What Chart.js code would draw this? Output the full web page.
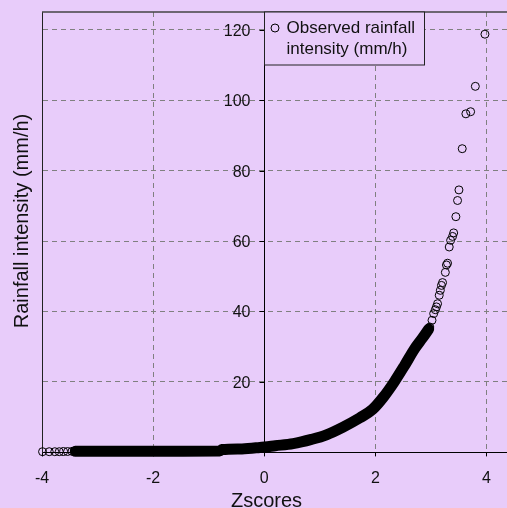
<!DOCTYPE html>
<html>
<head>
<meta charset="utf-8">
<script src="https://cdn.jsdelivr.net/npm/chart.js@4.4.1/dist/chart.umd.min.js"></script>
<style>
  html, body { margin: 0; padding: 0; background: #e8ccfa; }
  canvas { display: block; }
</style>
</head>
<body>
<canvas id="grafico" width="507" height="508"></canvas>
<script>
// ticks
const xTicks = [-4, -2, 0, 2, 4];
const yGrid = [0, 20, 40, 60, 80, 100, 120];
const yLabels = [20, 40, 60, 80, 100, 120];

// dense part of the curve (reads as a solid black band)
const bandZ = [-3.40, -2.50, -1.50, -0.80, -0.76, -0.40, -0.08, 0.20, 0.52, 0.85, 1.12, 1.42, 1.72, 1.95, 2.15, 2.34, 2.52, 2.71, 2.85, 2.96];
const bandY = [0.3, 0.3, 0.35, 0.4, 0.8, 1.0, 1.4, 1.9, 2.5, 3.7, 5.0, 7.2, 9.8, 12.2, 15.8, 20.0, 24.5, 29.5, 32.5, 35.0];

// circles that can be told apart
const ptZ = [-3.99, -3.87, -3.77, -3.69, -3.61, -3.54, -3.46, -3.38,
  2.98, 3.02, 3.05, 3.08, 3.10, 3.12, 3.15, 3.17, 3.19, 3.21, 3.26, 3.28, 3.30,
  3.33, 3.355, 3.39, 3.41, 3.45, 3.48, 3.505, 3.564, 3.63, 3.715, 3.80, 3.973];
const ptY = [0.2, 0.2, 0.2, 0.2, 0.25, 0.25, 0.3, 0.3,
  35.6, 37.5, 39.4, 40.5, 41.3, 42.2, 44.6, 46.0, 47.4, 48.2, 51.1, 53.2, 53.7,
  58.3, 60.2, 61.3, 62.3, 66.9, 71.5, 74.5, 86.2, 96.1, 96.7, 103.9, 118.7];

const legendLines = ["Observed rainfall", "intensity (mm/h)"];
const xTitle = "Zscores";
const yTitle = "Rainfall intensity (mm/h)";

const fuente = 'Arial, "Liberation Sans", sans-serif';
const fondo = '#e8ccfa';
const gris = '#808080';

// eje vertical en x = 0 con sus etiquetas, borde superior y títulos
const ejeCero = {
  id: 'ejeCero',
  beforeDatasetsDraw(chart) {
    const { ctx, chartArea, scales: { x, y } } = chart;
    const x0 = Math.round(x.getPixelForValue(0)) + 0.5;
    ctx.save();
    ctx.strokeStyle = '#444';
    ctx.lineWidth = 1.5;
    ctx.beginPath();
    ctx.moveTo(chartArea.left, chartArea.top);
    ctx.lineTo(chartArea.right, chartArea.top);
    ctx.stroke();

    ctx.strokeStyle = '#000';
    ctx.lineWidth = 1;
    ctx.beginPath();
    ctx.moveTo(x0, chartArea.top);
    ctx.lineTo(x0, chartArea.bottom);
    ctx.stroke();

    ctx.font = '16px ' + fuente;
    ctx.fillStyle = '#111';
    ctx.textAlign = 'right';
    ctx.textBaseline = 'middle';
    yLabels.forEach(v => {
      const py = Math.round(y.getPixelForValue(v)) + 0.5;
      ctx.beginPath();
      ctx.moveTo(x0 - 5, py);
      ctx.lineTo(x0, py);
      ctx.stroke();
      ctx.fillText(String(v), x0 - 14, py + 1);
    });

    ctx.font = '20px ' + fuente;
    ctx.textAlign = 'center';
    ctx.fillText(xTitle, x0 + 2, 501);

    ctx.translate(22, 221);
    ctx.rotate(-Math.PI / 2);
    ctx.fillText(yTitle, 0, 0);
    ctx.restore();
  }
};

// leyenda dentro del área, pegada al eje x = 0
const leyenda = {
  id: 'leyenda',
  afterDraw(chart) {
    const { ctx, chartArea, scales: { x } } = chart;
    const left = Math.round(x.getPixelForValue(0)) + 0.5;
    const top = chartArea.top;
    ctx.save();
    ctx.fillStyle = fondo;
    ctx.fillRect(left, top, 160, 53);
    ctx.strokeStyle = '#222';
    ctx.lineWidth = 1;
    ctx.strokeRect(left, top, 160, 53);

    ctx.beginPath();
    ctx.arc(left + 10.5, top + 16, 4, 0, Math.PI * 2);
    ctx.strokeStyle = '#000';
    ctx.stroke();

    ctx.font = '17px ' + fuente;
    ctx.fillStyle = '#111';
    ctx.textAlign = 'left';
    ctx.textBaseline = 'alphabetic';
    ctx.fillText(legendLines[0], left + 22, top + 20.5);
    ctx.fillText(legendLines[1], left + 22, top + 41.5);
    ctx.restore();
  }
};

new Chart(document.getElementById('grafico'), {
  type: 'scatter',
  data: {
    datasets: [
      {
        label: 'banda',
        data: bandZ.map((z, i) => ({ x: z, y: bandY[i] })),
        showLine: true,
        borderColor: '#000',
        borderWidth: 11,
        borderCapStyle: 'round',
        borderJoinStyle: 'round',
        cubicInterpolationMode: 'monotone',
        pointRadius: 0,
        clip: false
      },
      {
        label: legendLines.join(' '),
        data: ptZ.map((z, i) => ({ x: z, y: ptY[i] })),
        pointStyle: 'circle',
        pointRadius: 4,
        pointBorderWidth: 1,
        pointBorderColor: '#000',
        pointBackgroundColor: 'rgba(0,0,0,0)',
        clip: false
      }
    ]
  },
  options: {
    responsive: false,
    animation: false,
    devicePixelRatio: 1,
    layout: { autoPadding: false, padding: { left: 42, top: 12, right: 0, bottom: 7.6 } },
    plugins: {
      legend: { display: false },
      tooltip: { enabled: false }
    },
    scales: {
      x: {
        type: 'linear',
        position: 'bottom',
        min: -4,
        max: 4.37,
        afterBuildTicks: axis => { axis.ticks = xTicks.map(v => ({ value: v })); },
        ticks: { font: { size: 16, family: fuente }, color: '#111', padding: 12.4 },
        grid: { color: gris, tickColor: '#000', tickLength: 4 },
        border: { color: '#000', width: 1, dash: [5, 4] }
      },
      y: {
        position: 'left',
        min: 0,
        max: 125,
        afterBuildTicks: axis => { axis.ticks = yGrid.map(v => ({ value: v })); },
        ticks: { display: false },
        grid: { color: gris, drawTicks: false },
        border: { color: '#222', width: 1, dash: [5, 4] }
      }
    }
  },
  plugins: [ejeCero, leyenda]
});
</script>
</body>
</html>
